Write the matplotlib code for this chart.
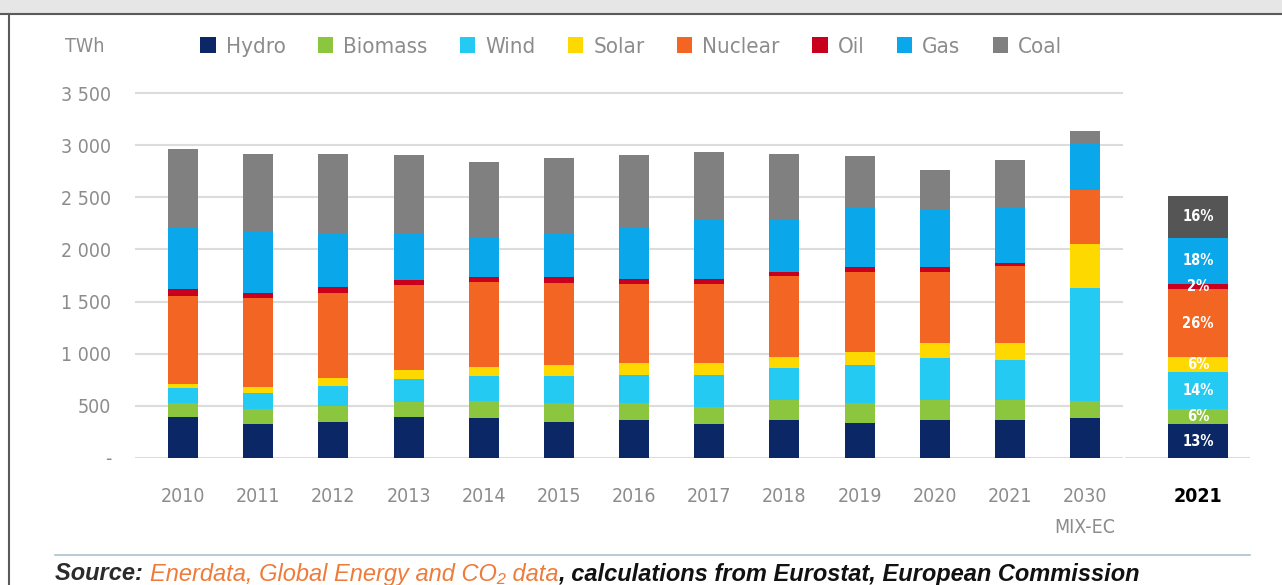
import matplotlib
matplotlib.use("Agg")
import matplotlib.pyplot as plt
from matplotlib.patches import Rectangle, Patch
from matplotlib.lines import Line2D
from matplotlib.offsetbox import TextArea, HPacker, AnchoredOffsetbox
from matplotlib.font_manager import FontProperties

# ---- data (TWh) ----
years = ["2010", "2011", "2012", "2013", "2014", "2015", "2016",
         "2017", "2018", "2019", "2020", "2021", "2030\nMIX-EC"]
hydro   = [396, 326, 348, 390, 386, 348, 364, 323, 364, 338, 364, 364, 386]
biomass = [128, 141, 150, 150, 160, 182, 160, 169, 192, 186, 192, 192, 160]
wind    = [151, 159, 195, 214, 240, 256, 271, 303, 303, 367, 399, 383, 1080]
solar   = [33, 57, 76, 89, 89, 105, 112, 112, 112, 122, 150, 166, 431]
nuclear = [846, 847, 809, 814, 814, 792, 766, 766, 773, 772, 680, 734, 517]
oil     = [67, 57, 63, 48, 48, 54, 48, 48, 41, 48, 48, 32, 0]
gas     = [597, 581, 511, 447, 383, 415, 489, 559, 511, 574, 559, 530, 434]
coal    = [741, 751, 767, 751, 719, 729, 693, 654, 623, 486, 367, 454, 128]

# 2021 shares (%) for the side bar
share_2021 = [13, 6, 14, 6, 26, 2, 18, 16]

sources = ["Hydro", "Biomass", "Wind", "Solar", "Nuclear", "Oil", "Gas", "Coal"]
colors = ["#0b2766", "#8cc63f", "#24caf2", "#fdd900", "#f26522", "#c8001e", "#0aa7ea", "#808080"]
side_colors = ["#0b2766", "#8cc63f", "#24caf2", "#fdd900", "#f26522", "#c8001e", "#0aa7ea", "#555555"]
yticks = [0, 500, 1000, 1500, 2000, 2500, 3000, 3500]
ytick_labels = ["-", "500", "1 000", "1 500", "2 000", "2 500", "3 000", "3 500"]

series = [hydro, biomass, wind, solar, nuclear, oil, gas, coal]

GREY = "#8c8c8c"


def narrow(size, weight="normal"):
    return FontProperties(family="DejaVu Sans", stretch="condensed", size=size, weight=weight)


W, H = 1282, 585
fig = plt.figure(figsize=(W / 100, H / 100), dpi=100)

# frame: grey band on top, dark rule and left border
fig.patches.append(Rectangle((0, 1 - 13 / H), 1, 13 / H, transform=fig.transFigure,
                             color="#e6e6e6", zorder=0))
fig.lines.append(Line2D([0, 1], [1 - 14 / H] * 2, transform=fig.transFigure,
                        color="#5a5a5a", lw=1.5))
fig.lines.append(Line2D([9 / W] * 2, [0, 1 - 14 / H], transform=fig.transFigure,
                        color="#5a5a5a", lw=1.5))

# ---- main stacked bars ----
ax = fig.add_axes([135 / W, (H - 458) / H, (1123 - 135) / W, 373 / H])
x = range(len(years))
bottom = [0] * len(years)
for vals, col in zip(series, colors):
    ax.bar(x, vals, width=0.4, bottom=bottom, color=col, zorder=3)
    bottom = [b + v for b, v in zip(bottom, vals)]

ax.set_xlim(-0.64, 12.505)
ax.set_ylim(0, 3577)
ax.set_yticks(yticks)
ax.set_yticklabels(ytick_labels)
ax.set_xticks(list(x))
ax.set_xticklabels(years, linespacing=1.8)
ax.grid(axis="y", color="#dcdcdc", lw=1.5, zorder=0)
for s in ax.spines.values():
    s.set_visible(False)
ax.tick_params(length=0)
ax.tick_params(axis="y", pad=17, labelcolor=GREY)
ax.tick_params(axis="x", pad=21, labelcolor=GREY)
for lab in ax.get_xticklabels() + ax.get_yticklabels():
    lab.set_fontproperties(narrow(14))

# ---- side bar: 2021 shares ----
ax2 = fig.add_axes([1125 / W, (H - 458) / H, 125 / W, 373 / H])
b = 0
for val, col in zip(share_2021, side_colors):
    ax2.bar(0, val, width=1, bottom=b, color=col, zorder=3)
    ax2.text(0, b + val / 2, f"{val}%", ha="center", va="center", color="white",
             fontproperties=narrow(10.5, "bold"), zorder=4)
    b += val
ax2.set_xlim(-73 / 60, 52 / 60)
ax2.set_ylim(0, 101 * 373 / 262)
ax2.axhline(0, color="#dcdcdc", lw=1.5, zorder=1)
ax2.set_xticks([0])
ax2.set_xticklabels(["2021"], color="black")
ax2.get_xticklabels()[0].set_fontproperties(narrow(14, "bold"))
ax2.set_yticks([])
ax2.tick_params(length=0, pad=21)
for s in ax2.spines.values():
    s.set_visible(False)

# ---- legend row ----
fig.text(65 / W, 1 - 47 / H, "TWh", ha="left", va="center", color=GREY,
         fontproperties=narrow(14))
handles = [Patch(facecolor=c, edgecolor="none") for c in colors]
fig.legend(handles, sources, loc="center left", bbox_to_anchor=(200 / W, 1 - 47 / H),
           ncol=8, frameon=False, handlelength=0.7, handleheight=0.7,
           handletextpad=0.45, columnspacing=1.45, borderpad=0, borderaxespad=0,
           prop=narrow(16), labelcolor=GREY)

# ---- source line ----
fig.lines.append(Line2D([55 / W, 1 - 32 / W], [1 - 555 / H] * 2, transform=fig.transFigure,
                        color="#a9c3cb", lw=1.2))
parts = [("Source: ", "#2b2b2b", "bold"),
         ("Enerdata, Global Energy and CO₂ data", "#ee7b3a", "normal"),
         (", calculations from Eurostat, European Commission", "#111111", "bold")]
boxes = [TextArea(t, textprops=dict(fontproperties=FontProperties(
             family="Liberation Sans", style="italic", weight=w, stretch="normal", size=17),
             color=c))
         for t, c, w in parts]
pack = HPacker(children=boxes, align="baseline", pad=0, sep=0)
anch = AnchoredOffsetbox(loc="center left", child=pack, pad=0, frameon=False,
                         bbox_to_anchor=(55 / W, 1 - 574 / H),
                         bbox_transform=fig.transFigure, borderpad=0)
fig.add_artist(anch)

fig.savefig("out.png", dpi=100)
